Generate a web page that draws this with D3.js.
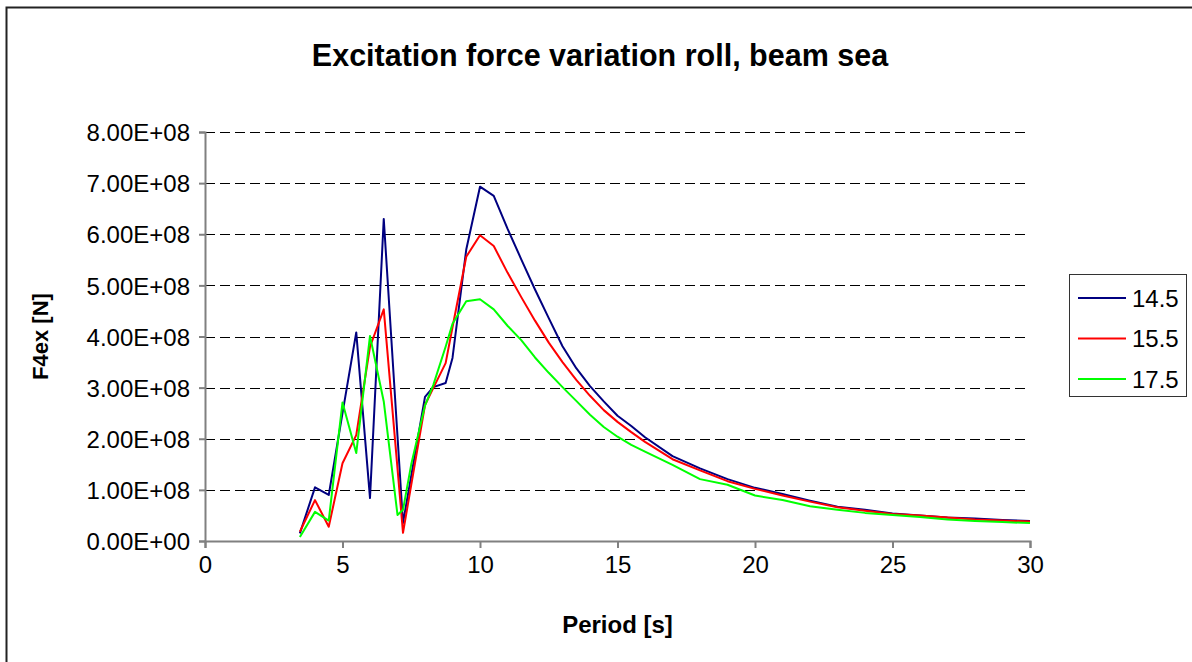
<!DOCTYPE html>
<html>
<head>
<meta charset="utf-8">
<script src="https://cdn.jsdelivr.net/npm/d3@7"></script>
<style>
  body { margin: 0; background: #fff; }
  text { font-family: Arial, "Liberation Sans", sans-serif; }
</style>
</head>
<body>
<script>
// period [s]
const periods = [3.45, 4, 4.5, 5, 5.5, 6, 6.5, 7, 7.2, 7.5, 8, 8.3, 8.75, 9, 9.5, 10, 10.5,
    11, 11.5, 12, 12.5, 13, 13.5, 14, 14.5, 15, 15.5, 16, 17, 18, 19, 20, 21, 22, 23, 24,
    25, 26, 27, 28, 29, 30];

// F4ex in units of 1e8 N
const f_145 = [0.15, 1.05, 0.90, 2.50, 4.08, 0.84, 6.30, 2.05, 0.35, 1.28, 2.82, 3.01, 3.09, 3.58, 5.70, 6.93, 6.75,
    6.11, 5.51, 4.92, 4.36, 3.81, 3.38, 3.03, 2.73, 2.45, 2.25, 2.03, 1.66, 1.42, 1.21, 1.04, 0.92, 0.79, 0.67, 0.61,
    0.54, 0.50, 0.46, 0.44, 0.41, 0.39];
const f_155 = [0.18, 0.80, 0.28, 1.52, 2.07, 3.80, 4.53, 1.42, 0.16, 1.10, 2.66, 2.99, 3.48, 4.18, 5.56, 5.98, 5.77,
    5.25, 4.77, 4.31, 3.88, 3.50, 3.15, 2.84, 2.56, 2.33, 2.13, 1.94, 1.60, 1.38, 1.17, 1.02, 0.89, 0.77, 0.66, 0.59,
    0.53, 0.50, 0.46, 0.42, 0.40, 0.38];
const f_175 = [0.08, 0.57, 0.40, 2.71, 1.72, 4.01, 2.73, 0.51, 0.61, 1.50, 2.65, 3.05, 3.80, 4.25, 4.69, 4.73, 4.53,
    4.21, 3.93, 3.59, 3.29, 3.01, 2.74, 2.47, 2.23, 2.04, 1.88, 1.75, 1.49, 1.21, 1.10, 0.89, 0.80, 0.68, 0.61, 0.55,
    0.51, 0.47, 0.42, 0.39, 0.37, 0.35];

const seriesNames = ['14.5', '15.5', '17.5'];
const seriesColors = ['#000080', '#ff0000', '#00ff00'];
const xTicks = [0, 5, 10, 15, 20, 25, 30];
const yTicks = [0, 1e8, 2e8, 3e8, 4e8, 5e8, 6e8, 7e8, 8e8];

const series = [f_145, f_155, f_175].map((vals, i) => ({
    name: seriesNames[i],
    color: seriesColors[i],
    values: vals.map((v, j) => ({ x: periods[j], y: v * 1e8 }))
}));

const W = 1192, H = 662;
const margin = { top: 132, left: 205, right: 162, bottom: 121 };
const width = W - margin.left - margin.right;
const height = H - margin.top - margin.bottom;

const svg = d3.select('body').append('svg')
    .attr('width', W)
    .attr('height', H);

// outer chart frame (right and bottom run off the picture)
svg.append('rect')
    .attr('x', 6.5).attr('y', 7.5)
    .attr('width', W + 20).attr('height', H + 20)
    .attr('fill', 'none')
    .attr('stroke', '#222')
    .attr('stroke-width', 2);

const g = svg.append('g')
    .attr('transform', `translate(${margin.left},${margin.top})`);

const xscale = d3.scaleLinear().domain([0, 30]).range([0, width]);
const yscale = d3.scaleLinear().domain([0, 8e8]).range([height, 0]);

// dashed gridlines
g.append('g')
    .selectAll('line')
    .data(yTicks.filter(d => d > 0))
    .join('line')
    .attr('x1', 0).attr('x2', width)
    .attr('y1', d => Math.round(yscale(d)) + 0.5)
    .attr('y2', d => Math.round(yscale(d)) + 0.5)
    .attr('stroke', '#000')
    .attr('stroke-dasharray', '10,5');

// axes
const fmt = d => {
    if (d === 0) return '0.00E+00';
    const e = Math.floor(Math.log10(d));
    return (d / Math.pow(10, e)).toFixed(2) + 'E+' + String(e).padStart(2, '0');
};

const yaxis = d3.axisLeft(yscale).tickValues(yTicks).tickFormat(fmt).tickSize(6).tickPadding(9);
const g_yaxis = g.append('g').call(yaxis);
const xaxis = d3.axisBottom(xscale).tickValues(xTicks).tickSize(7).tickPadding(5);
const g_xaxis = g.append('g').attr('transform', `translate(0,${height})`).call(xaxis);

[g_yaxis, g_xaxis].forEach(ax => {
    ax.select('.domain').attr('stroke', '#808080').attr('stroke-width', 2);
    ax.selectAll('.tick line').attr('stroke', '#808080').attr('stroke-width', 2);
    ax.selectAll('.tick text')
        .attr('fill', '#000')
        .style('font-size', '24px');
});
g_yaxis.selectAll('.tick text').attr('dy', '0.36em');
g_xaxis.selectAll('.tick text').attr('dy', '0.85em');

// lines
const line = d3.line()
    .x(d => xscale(d.x))
    .y(d => yscale(d.y));

g.selectAll('path.series')
    .data(series)
    .join('path')
    .attr('class', 'series')
    .attr('fill', 'none')
    .attr('stroke', d => d.color)
    .attr('stroke-width', 2)
    .attr('stroke-linejoin', 'round')
    .attr('d', d => line(d.values));

// titles
svg.append('text')
    .attr('x', 600).attr('y', 66)
    .attr('text-anchor', 'middle')
    .style('font-size', '30.5px')
    .style('font-weight', 'bold')
    .text('Excitation force variation roll, beam sea');

svg.append('text')
    .attr('x', margin.left + width / 2).attr('y', 633)
    .attr('text-anchor', 'middle')
    .style('font-size', '24px')
    .style('font-weight', 'bold')
    .text('Period [s]');

svg.append('text')
    .attr('transform', `translate(48,${margin.top + height / 2}) rotate(-90)`)
    .attr('text-anchor', 'middle')
    .style('font-size', '22px')
    .style('font-weight', 'bold')
    .text('F4ex [N]');

// legend
const legend = svg.append('g').attr('transform', 'translate(1069,274)');
legend.append('rect')
    .attr('x', 0.5).attr('y', 0.5)
    .attr('width', 117).attr('height', 122)
    .attr('fill', '#fff')
    .attr('stroke', '#333');

const item = legend.selectAll('g.item')
    .data(series)
    .join('g')
    .attr('class', 'item')
    .attr('transform', (d, i) => `translate(0,${24 + i * 40.5})`);
item.append('line')
    .attr('x1', 9).attr('x2', 57)
    .attr('stroke', d => d.color)
    .attr('stroke-width', 2);
item.append('text')
    .attr('x', 63).attr('dy', '0.36em')
    .style('font-size', '24px')
    .text(d => d.name);
</script>
</body>
</html>
